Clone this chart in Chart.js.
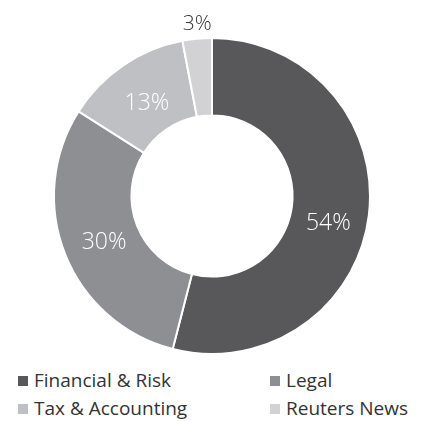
<!DOCTYPE html>
<html><head><meta charset="utf-8">
<script src="https://cdn.jsdelivr.net/npm/chart.js@4/dist/chart.umd.min.js"></script>
<style>
html,body{margin:0;padding:0;background:#fff;}
#wrap{position:relative;width:424px;height:421px;overflow:hidden;}
#cbox{position:absolute;left:0;top:0;width:424px;height:360px;}
#legend{position:absolute;left:0;top:366px;width:424px;font-family:"Open Sans",sans-serif;font-size:19px;color:#333;}
.item{position:absolute;height:28px;line-height:28px;white-space:nowrap;}
.sw{display:inline-block;width:10px;height:10px;margin-right:6px;vertical-align:1px;}
</style></head>
<body><div id="wrap"><div id="cbox"><canvas id="c"></canvas></div><div id="legend"></div></div>
<script>
const categories = ["Financial & Risk", "Legal", "Tax & Accounting", "Reuters News"];
const shares = [54, 30, 13, 3];
const valueLabels = ["54%", "30%", "13%", "3%"];
const colors = ["#58585a", "#8e8f93", "#bfc0c4", "#d2d2d4"];

const labelNudge = [[-2, 13], [3, 3], [2, 6], [2, 4]];
const labelPlugin = {
  id: 'sliceLabels',
  afterDatasetsDraw(chart) {
    const ctx = chart.ctx;
    const meta = chart.getDatasetMeta(0);
    meta.data.forEach((arc, i) => {
      const mid = (arc.startAngle + arc.endAngle) / 2;
      const outside = shares[i] < 5;
      const r = outside ? arc.outerRadius + 19 : (arc.innerRadius + arc.outerRadius) / 2;
      const x = arc.x + Math.cos(mid) * r + labelNudge[i][0];
      const y = arc.y + Math.sin(mid) * r + labelNudge[i][1];
      ctx.save();
      ctx.font = outside ? '300 21px "Open Sans", sans-serif' : '300 23px "Open Sans", sans-serif';
      ctx.fillStyle = outside ? '#333' : '#fff';
      ctx.textAlign = 'center';
      ctx.textBaseline = 'middle';
      ctx.fillText(valueLabels[i], x, y);
      ctx.restore();
    });
  }
};

new Chart(document.getElementById('c'), {
  type: 'doughnut',
  data: { labels: categories, datasets: [{ data: shares, backgroundColor: colors, borderColor: '#fff', borderWidth: 2 }] },
  options: {
    responsive: true, maintainAspectRatio: false, animation: false,
    cutout: '51%',
    layout: { padding: { top: 37, bottom: 5 } },
    plugins: { legend: { display: false }, tooltip: { enabled: false } }
  },
  plugins: [labelPlugin]
});

const lg = document.getElementById('legend');
const pos = [[18,0],[270,0],[18,28],[270,28]];
categories.forEach((c, i) => {
  const d = document.createElement('div');
  d.className = 'item';
  d.style.left = pos[i][0] + 'px';
  d.style.top = pos[i][1] + 'px';
  d.innerHTML = '<span class="sw" style="background:' + colors[i] + '"></span>';
  d.appendChild(document.createTextNode(c));
  lg.appendChild(d);
});
</script></body></html>
